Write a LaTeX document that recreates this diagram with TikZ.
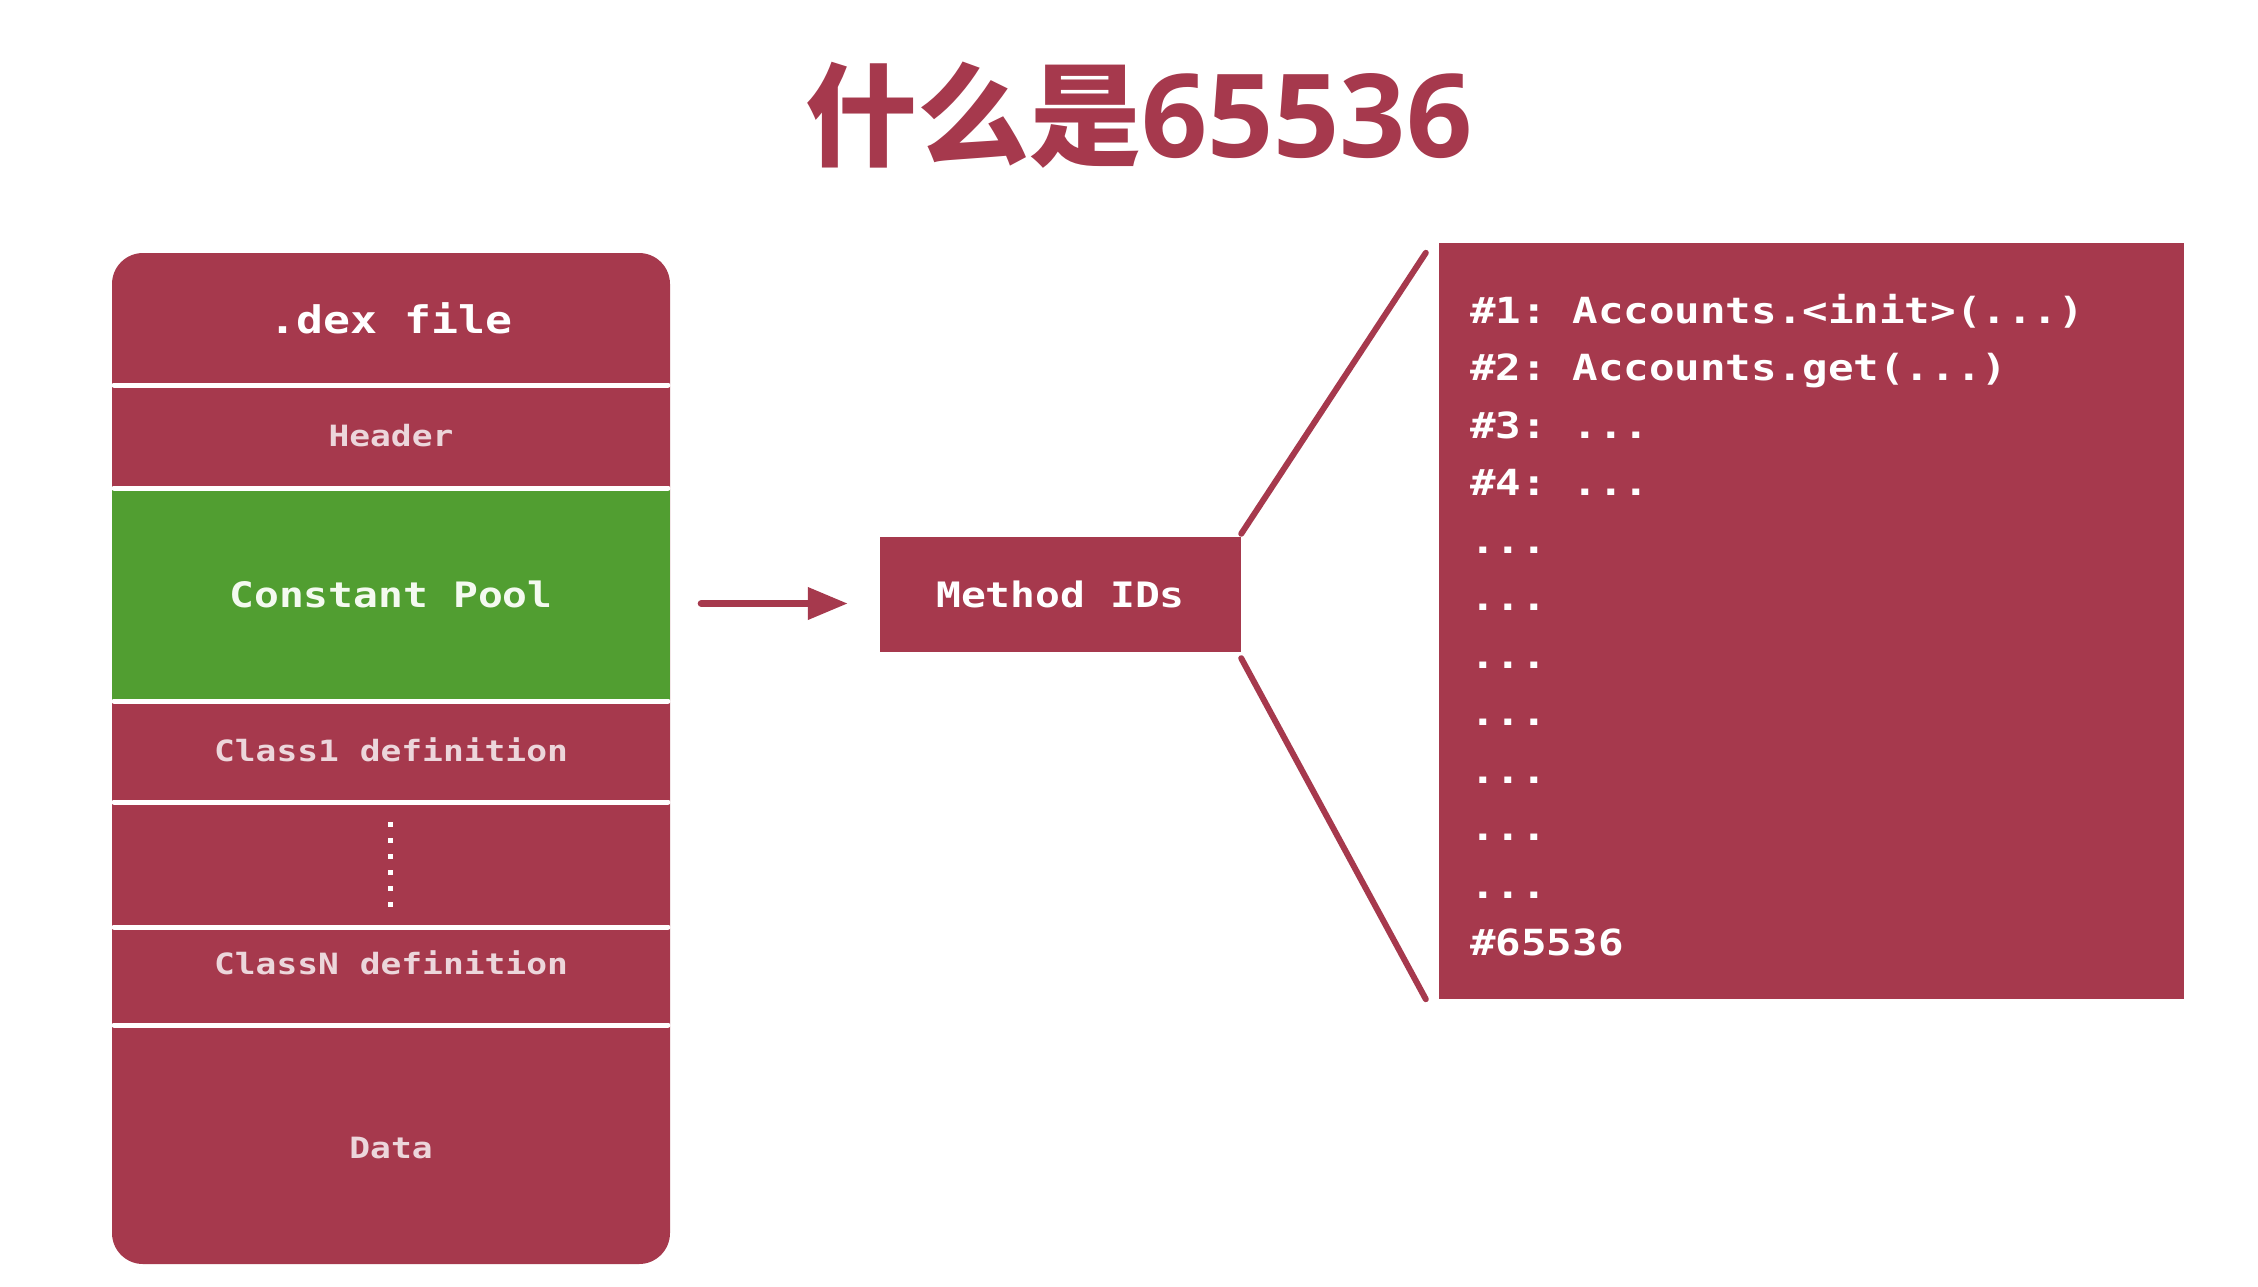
\documentclass[tikz,border=0pt]{standalone}
\usepackage{fontspec}
\setmonofont{DejaVu Sans Mono}[FakeStretch=1.18]
\newfontfamily\cjk{Noto Sans CJK SC}
\newfontfamily\osans{Open Sans}
\usetikzlibrary{arrows.meta,calc}
\definecolor{crim}{RGB}{166,57,77}
\definecolor{grn}{RGB}{81,158,49}
\definecolor{pinktxt}{RGB}{236,214,219}
\definecolor{cptxt}{RGB}{244,250,240}
\tikzset{
  blockbox/.style={fill=crim, draw=none, inner sep=0pt},
  divider/.style={white, line width=5pt, line cap=round},
  bigmono/.style={font=\ttfamily\bfseries\fontsize{35}{40}\selectfont},
  smallmono/.style={font=\ttfamily\bfseries\fontsize{29.3}{34}\selectfont, text=pinktxt},
  listline/.style={anchor=base west, inner sep=0pt, text=white, font=\ttfamily\bfseries\fontsize{36}{40}\selectfont},
  arrowline/.style={crim, line width=7pt, line cap=round, -{Triangle[length=40pt,width=31pt]}},
  fanline/.style={crim, line width=6pt, line cap=round}
}
\begin{document}
\begin{tikzpicture}[x=1pt,y=-1pt]
\useasboundingbox[fill=white] (0,0) rectangle (2258,1286);

% title
\node[anchor=base west, inner sep=0pt, text=crim] (title) at (805,157)
  {\cjk\bfseries\fontsize{112}{112}\selectfont 什么是\osans\bfseries\fontsize{116}{116}\selectfont 65536};

% dex file block
\node[blockbox, rounded corners=31pt, minimum width=558pt, minimum height=1011pt] (dex) at (391,758.5) {};
\node[fill=grn, draw=none, inner sep=0pt, minimum width=558pt, minimum height=213pt, text=cptxt, bigmono] (cp) at (391,594.5) {Constant Pool};
\foreach \yy in {385,488,701,802,927,1025}
  \draw[divider] (114,\yy) -- (668,\yy);
\node[text=white, font=\ttfamily\bfseries\fontsize{38}{42}\selectfont] (dexlbl) at (391,318) {.dex file};
\node[smallmono] (hdr) at (391,436) {Header};
\node[smallmono] (c1) at (391,750) {Class1 definition};
\node[smallmono] (cn) at (391,963) {ClassN definition};
\node[smallmono] (data) at (391,1148) {Data};
\foreach \k in {0,...,5}
  \fill[white] (387.5,{821.5+16*\k}) rectangle (392.5,{826.5+16*\k});

% method IDs
\node[blockbox, minimum width=361pt, minimum height=115pt, text=white, bigmono] (mid) at (1060.5,594.5) {Method IDs};

\coordinate (as) at ($(dex.east |- mid.west)+(31,9)$);
\coordinate (ae) at ($(mid.west)+(-32,9)$);
\draw[arrowline] (as) -- (ae);

% id list box
\node[blockbox, minimum width=745pt, minimum height=756pt] (ids) at (1811.5,621) {};
\draw[fanline] ($(mid.north east)+(0,-3)$) -- ($(ids.north west)+(-13,10)$);
\draw[fanline] ($(mid.south east)+(0,6)$) -- ($(ids.south west)+(-13,0)$);

\node[listline] (l1) at (1470,323) {\#1: Accounts.<init>(...)};
\node[listline] (l2) at (1470,380.5) {\#2: Accounts.get(...)};
\node[listline] (l3) at (1470,438) {\#3: ...};
\node[listline] (l4) at (1470,495.5) {\#4: ...};
\node[listline] (l5) at (1470,553) {...};
\node[listline] (l6) at (1470,610.5) {...};
\node[listline] (l7) at (1470,668) {...};
\node[listline] (l8) at (1470,725.5) {...};
\node[listline] (l9) at (1470,783) {...};
\node[listline] (l10) at (1470,840.5) {...};
\node[listline] (l11) at (1470,898) {...};
\node[listline] (l12) at (1470,955.5) {\#65536};
\end{tikzpicture}
\end{document}
